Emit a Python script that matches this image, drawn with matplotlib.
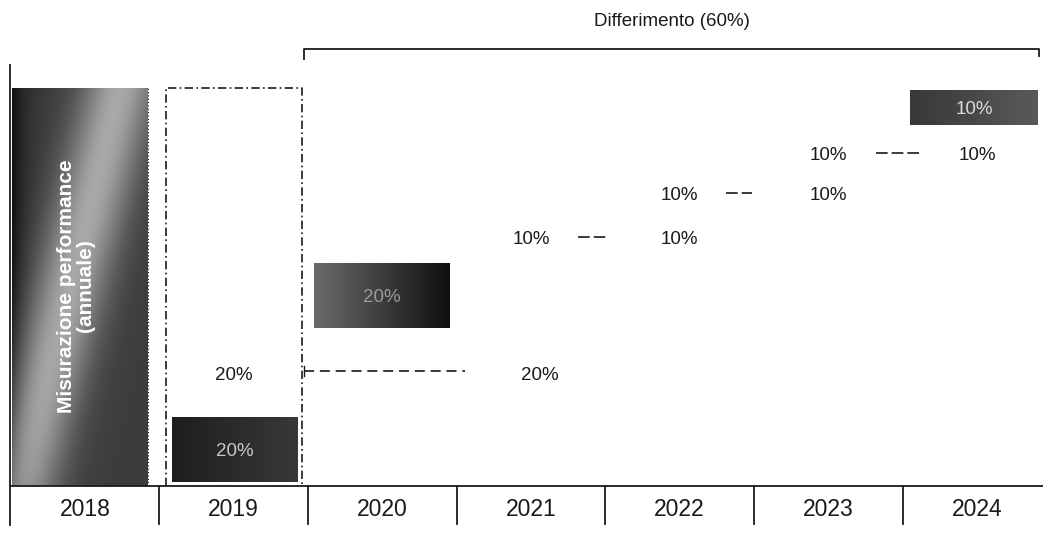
import numpy as np
import matplotlib
matplotlib.use("Agg")
import matplotlib.pyplot as plt

plt.rcParams["font.family"] = ["Liberation Sans", "DejaVu Sans"]

# ─── Data ─────────────────────────────────────────────────────────────────────
YEARS = ["2018", "2019", "2020", "2021", "2022", "2023", "2024"]
PERF_LABEL = "Misurazione performance\n(annuale)"
DEFERRAL_LABEL = "Differimento"
DEFERRAL_SHARE = 60

# paid tranches (dark boxes): year, share %
BOX_YEARS = ["2019", "2020", "2024"]
BOX_SHARES = [20, 20, 10]

# deferred tranches: shown in one year, carried to the next
ROW_FROM = ["2019", "2021", "2022", "2023"]
ROW_TO = ["2021", "2022", "2023", "2024"]
ROW_SHARES = [20, 10, 10, 10]

# ─── Layout (y in px above the year baseline) ─────────────────────────────────
BOX_X = [(0.086, 0.841), (0.041, 0.914), (0.05, 0.86)]   # offset in column, width
BOX_Y = [(4, 65), (158, 65), (361, 35)]
BOX_SHADE = [(0.12, 0.22), (0.42, 0.06), (0.22, 0.35)]   # left/right grey level
BOX_TXT = ["#c8c8c8", "#9a9a9a", "#d8d8d8"]
ROW_Y = [115, 249, 293, 333]
ROW_DASH = [(1.975, 3.06), (3.82, 4.01), (4.81, 4.99), (5.82, 6.12)]
ROW_TXT_DX = [(0.0, 0.06), (0.0, 0.0), (0.0, 0.0), (0.0, 0.0)]
DASH_PAT = [(6, 3.5), (7, 2.4), (7, 2.4), (7, 2.4)]

col = {y: i for i, y in enumerate(YEARS)}
K = "#1a1a1a"

fig = plt.figure(figsize=(10.43, 5.35), dpi=100)
ax = fig.add_axes([0, 0, 1, 1])
ax.set_xlim(-0.0706, 6.944)
ax.set_ylim(-49, 486)
ax.axis("off")

# year axis
ax.plot([0, 6.944], [0, 0], color=K, lw=1.3)
ax.plot([0, 0], [-39, 421], color=K, lw=1.3)
for i, y in enumerate(YEARS):
    if i > 0:
        ax.plot([i, i], [0, -38], color=K, lw=1.3)
    ax.text(i + 0.5, -23, y, ha="center", va="center", fontsize=16.5, color=K)

# performance box (2018) with a soft shaded fill
u, v = np.meshgrid(np.linspace(0, 1, 120), np.linspace(1, 0, 300))
band = np.exp(-((u - (0.05 + 0.75 * v)) / 0.28) ** 2)
edge = np.exp(-u / 0.1)
shade = np.clip(0.24 + 0.42 * band - 0.18 * edge, 0, 1)
x0, x1 = 0.012, 0.925
ax.imshow(shade, cmap="gray", vmin=0, vmax=1, extent=(x0, x1, 0, 398),
          aspect="auto", interpolation="bilinear", zorder=1)
ax.plot([x1, x1], [0, 398], color=K, lw=0.8, ls=(0, (1, 2)), zorder=2)
ax.text((x0 + x1) / 2 - 0.03, 200, PERF_LABEL, rotation=90, ha="center",
        va="center", fontsize=15, fontweight="bold", color="white",
        linespacing=1.0, zorder=3)

# dashed frame around 2019
c = col["2019"]
ax.plot([c + 0.046, c + 0.046, c + 0.96, c + 0.96], [0, 398, 398, 0],
        color=K, lw=1.2, ls=(0, (5, 2, 1, 2)))

# paid tranches
for yr, share, (dx, w), (yb, h), (g0, g1), tc in zip(
        BOX_YEARS, BOX_SHARES, BOX_X, BOX_Y, BOX_SHADE, BOX_TXT):
    c = col[yr]
    grad = np.tile(np.linspace(g0, g1, 50), (10, 1))
    ax.imshow(grad, cmap="gray", vmin=0, vmax=1,
              extent=(c + dx, c + dx + w, yb, yb + h),
              aspect="auto", interpolation="bilinear", zorder=2)
    ax.text(c + dx + w / 2, yb + h / 2 - 2, f"{share}%", ha="center",
            va="center", fontsize=13.5, color=tc, zorder=3)

# deferred tranches
for fr, to, share, yv, (d0, d1), (t0, t1), pat in zip(
        ROW_FROM, ROW_TO, ROW_SHARES, ROW_Y, ROW_DASH, ROW_TXT_DX, DASH_PAT):
    ty = yv - 5 if fr == "2019" else yv - 3
    ax.text(col[fr] + 0.5 + t0, ty, f"{share}%", ha="center", va="center",
            fontsize=13.5, color=K)
    ax.text(col[to] + 0.5 + t1, ty, f"{share}%", ha="center", va="center",
            fontsize=13.5, color=K)
    ax.plot([d0, d1], [yv, yv], color=K, lw=1.2, ls=(0, pat))
ax.plot([1.975, 1.975], [ROW_Y[0] - 5, ROW_Y[0] + 5], color=K, lw=1.0)

# deferral bracket
b0, b1 = 1.974, 6.92
ax.plot([b0, b0, b1, b1], [427, 437, 437, 430], color=K, lw=1.3)
ax.text((b0 + b1) / 2, 464, f"{DEFERRAL_LABEL} ({DEFERRAL_SHARE}%)",
        ha="center", va="center", fontsize=13.5, color=K)

fig.savefig("out.png", dpi=100)
